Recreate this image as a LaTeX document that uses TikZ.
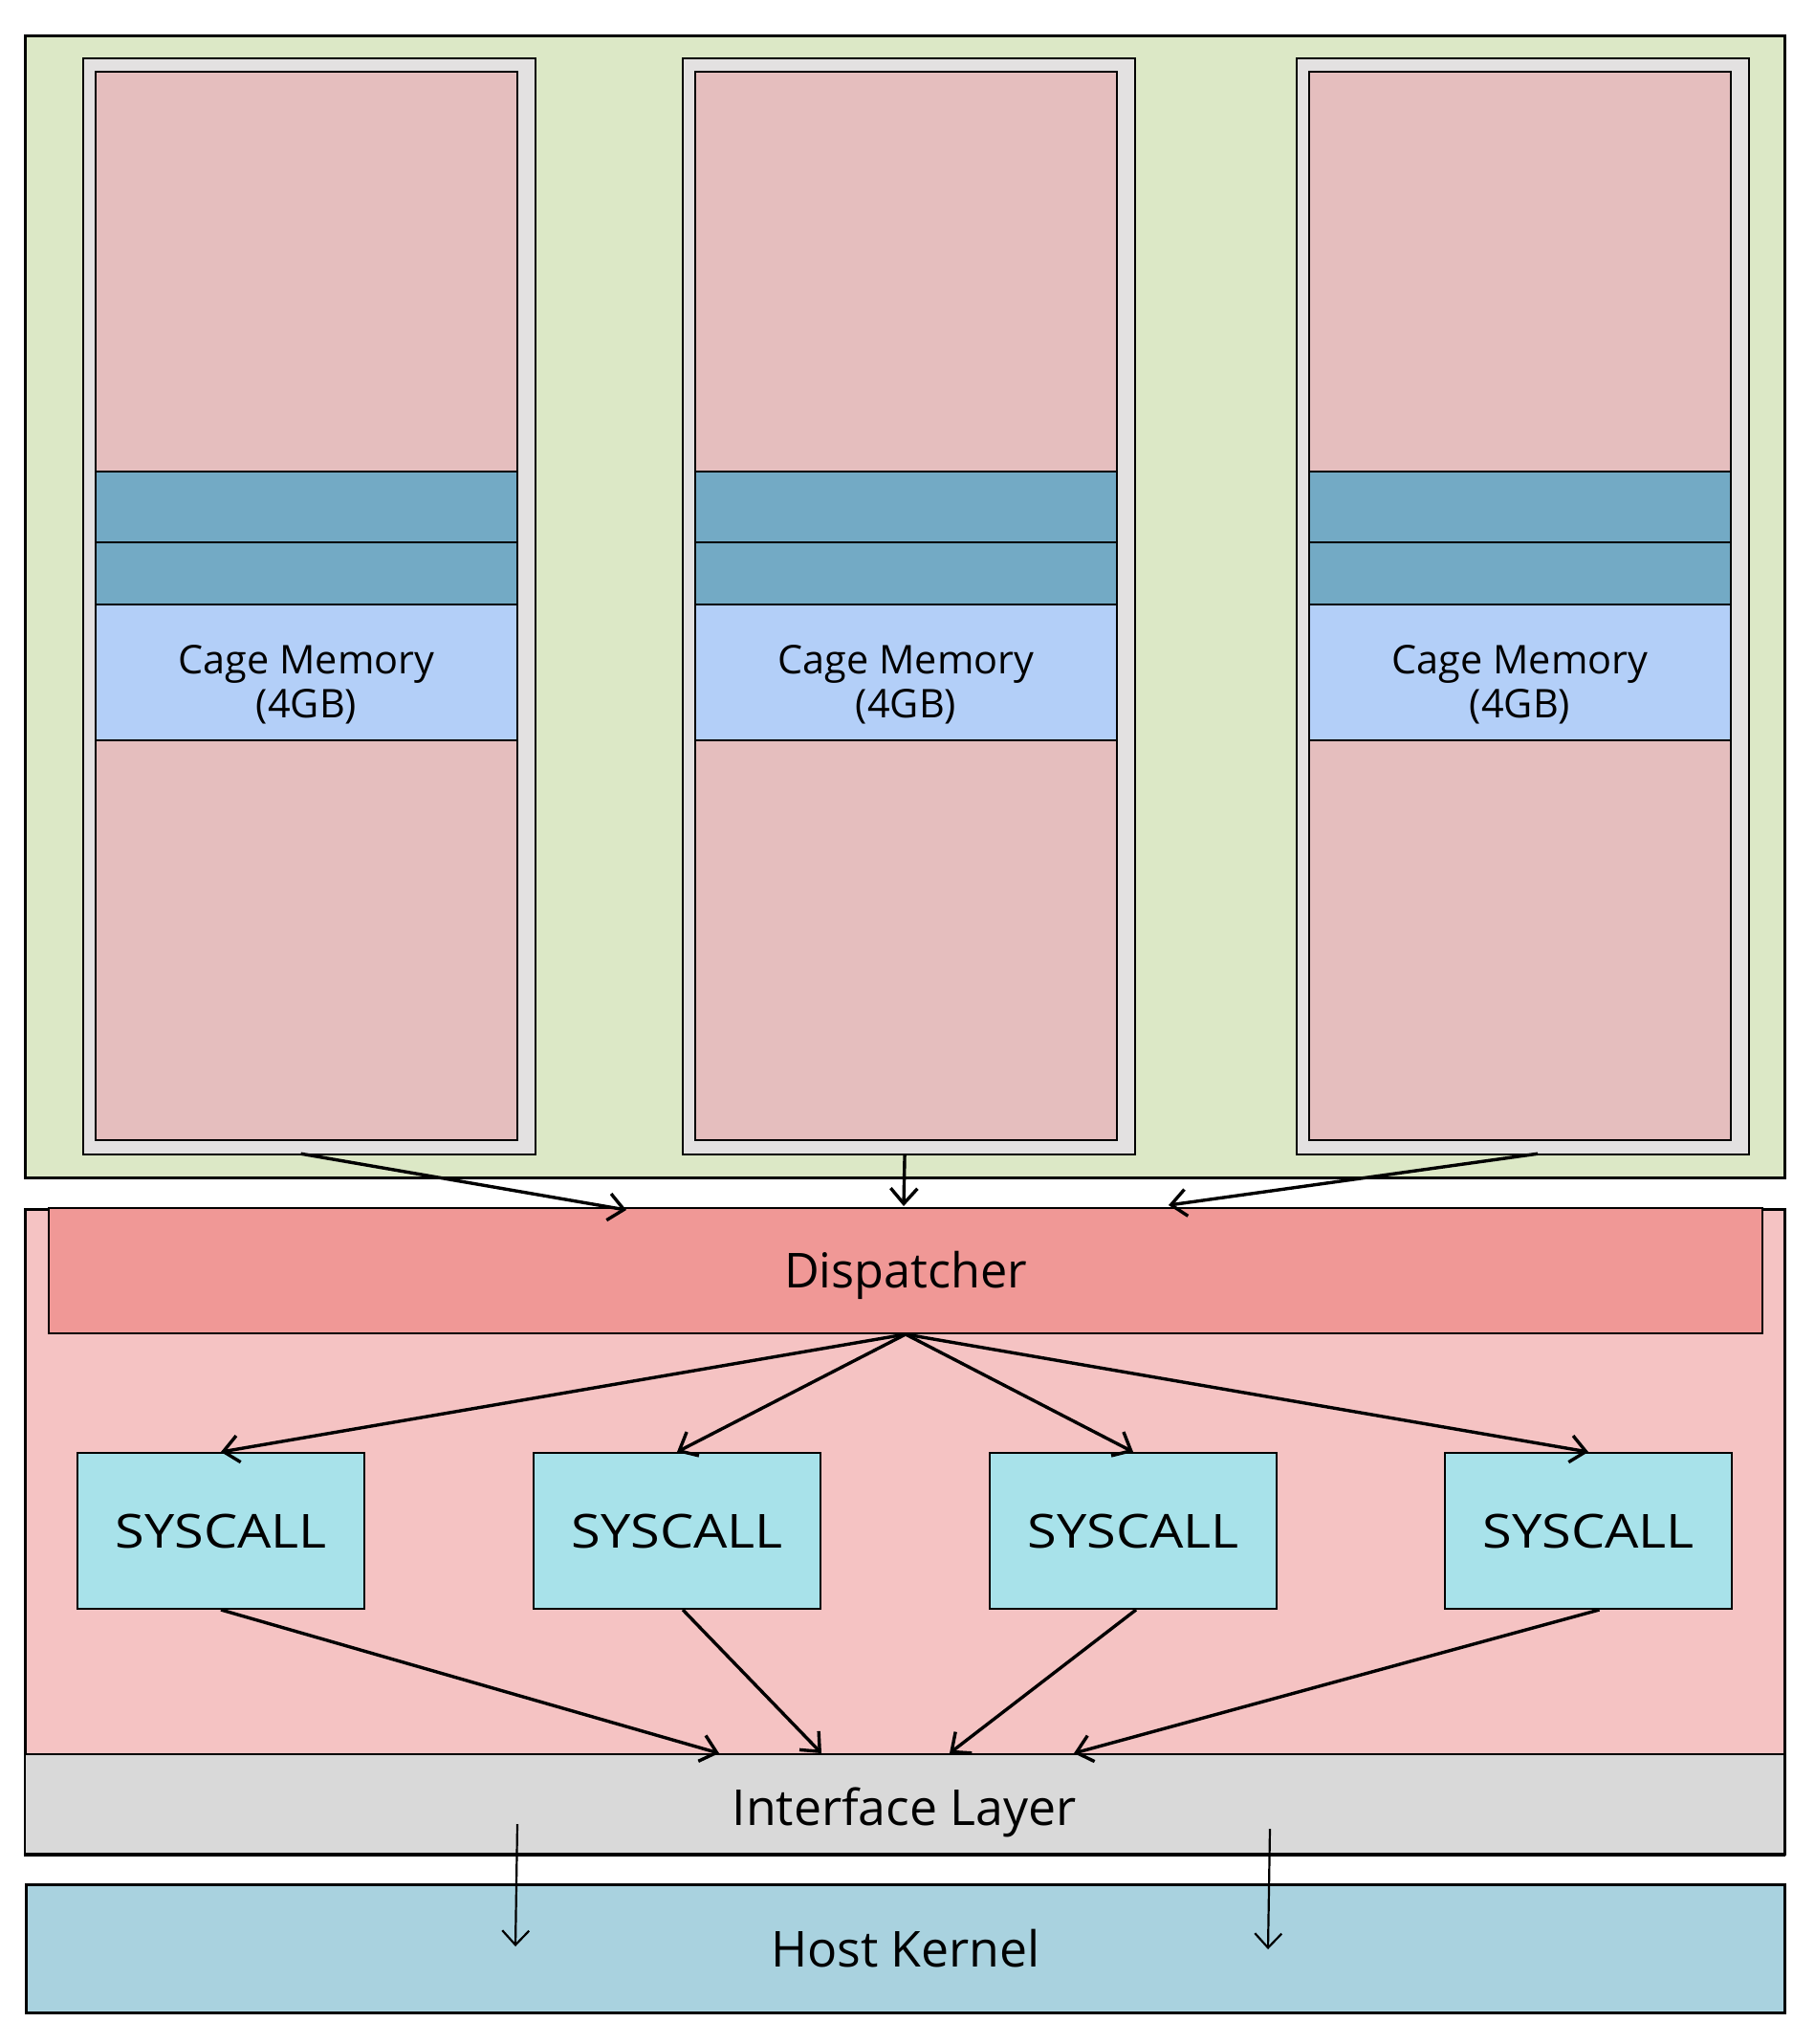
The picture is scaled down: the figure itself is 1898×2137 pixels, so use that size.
\documentclass[tikz,border=0pt]{standalone}
\usepackage{fontspec}
\usepackage{graphicx}
\setmainfont{Open Sans}
\usetikzlibrary{arrows.meta,calc}
\definecolor{guestgreen}{RGB}{220,232,198}
\definecolor{cagegray}{RGB}{227,225,225}
\definecolor{mempink}{RGB}{229,190,190}
\definecolor{bandblue}{RGB}{115,170,197}
\definecolor{cageblue}{RGB}{179,207,248}
\definecolor{rtpink}{RGB}{245,195,195}
\definecolor{disppink}{RGB}{240,152,150}
\definecolor{syscyan}{RGB}{168,226,234}
\definecolor{ifgray}{RGB}{217,217,217}
\definecolor{hostblue}{RGB}{169,210,223}
\newcommand{\syslabel}{\scalebox{1.14}[1]{SYSCALL}}
\begin{document}
\begin{tikzpicture}[x=0.5pt,y=-0.5pt,
  container/.style={draw, line width=1.5pt, inner sep=0pt, anchor=north west},
  cagebox/.style={draw, line width=1.1pt, fill=cagegray, inner sep=0pt, anchor=north west,
    minimum width=236.5pt, minimum height=573pt},
  memline/.style={draw, line width=1pt},
  memtext/.style={inner sep=0pt, anchor=north, align=center, font=\fontsize{20.7}{23}\selectfont},
  sysbox/.style={draw, line width=1pt, fill=syscyan, inner sep=0pt, anchor=north west,
    minimum width=150pt, minimum height=81.5pt,
    font=\fontsize{24.5}{28}\selectfont, text height=17.5pt, text depth=0pt},
  arr/.style={line width=1.7pt, -{Straight Barb[length=8pt,width=14pt]}},
  thinarr/.style={line width=1.1pt, -{Straight Barb[length=7.5pt,width=14pt]}}
]
\useasboundingbox (0,0) rectangle (1898,2137);

% guest area
\node[container, fill=guestgreen, minimum width=920.25pt, minimum height=597pt] (guest) at (24.5,36) {};

% cages
\foreach \cx/\nm in {86/A,713/B,1355/C}{
  \node[cagebox] (cage\nm) at (\cx,60) {};
  \draw[memline, fill=mempink]  (\cx+14,75)  rectangle (\cx+455,493);
  \draw[memline, fill=bandblue] (\cx+14,493) rectangle (\cx+455,567);
  \draw[memline, fill=bandblue] (\cx+14,567) rectangle (\cx+455,632);
  \draw[memline, fill=cageblue] (\cx+14,632) rectangle (\cx+455,774);
  \draw[memline, fill=mempink]  (\cx+14,774) rectangle (\cx+455,1192);
  \node[memtext] (mem\nm) at (\cx+234.5,674) {Cage Memory\\(4GB)};
}

% runtime area
\node[container, fill=rtpink, minimum width=920.25pt, minimum height=337pt] (runtime) at (24.5,1263) {};
\node[draw, line width=1pt, fill=disppink, inner sep=0pt, anchor=north west,
  minimum width=896pt, minimum height=65.5pt,
  font=\fontsize{25.2}{30}\selectfont, text height=18pt, text depth=0pt] (disp) at (50,1262) {Dispatcher};

\node[sysbox] (S1) at (80,1518) {\syslabel};
\node[sysbox] (S2) at (557,1518) {\syslabel};
\node[sysbox] (S3) at (1034,1518) {\syslabel};
\node[sysbox] (S4) at (1510,1518) {\syslabel};

\node[draw, line width=1pt, fill=ifgray, inner sep=0pt, anchor=north west,
  minimum width=920.25pt, minimum height=52pt,
  font=\fontsize{25.9}{30}\selectfont, text height=22pt, text depth=0pt] (iface) at (24.5,1833) {Interface Layer};
\draw[line width=1.5pt] (iface.south west) -- (iface.south east);

\node[container, fill=hostblue, minimum width=919.5pt, minimum height=67pt,
  font=\fontsize{25.9}{30}\selectfont, text height=18.5pt, text depth=0pt] (host) at (26,1969) {Host Kernel};

% coordinates for free ends
\coordinate (dA) at (655,1265);
\coordinate (dB) at (945,1261);
\coordinate (dC) at (1222,1260);
\coordinate (i1) at (752,1833);
\coordinate (i2) at (859,1833);
\coordinate (i3) at (993,1833);
\coordinate (i4) at (1123,1833);
\coordinate (kAtop) at (541,1907);
\coordinate (kAend) at (539,2035);
\coordinate (kBtop) at (1328,1912);
\coordinate (kBend) at (1326,2038);

% cage arrows
\draw[arr] ($(cageA.south)+(-9,-2)$) -- (dA);
\draw[arr] ($(cageB.south)+(-4.5,-2)$) -- (dB);
\draw[arr] ($(cageC.south)+(15.5,-2)$) -- (dC);

% dispatcher fan
\foreach \s in {S1,S2,S3,S4}{
  \draw[arr] (disp.south) -- (\s.north);
}

% syscalls to interface
\draw[arr] (S1.south) -- (i1);
\draw[arr] ($(S2.south)+(6,0)$) -- (i2);
\draw[arr] ($(S3.south)+(3,0)$) -- (i3);
\draw[arr] ($(S4.south)+(11.5,0)$) -- (i4);

% interface to host
\draw[thinarr] (kAtop) -- (kAend);
\draw[thinarr] (kBtop) -- (kBend);
\end{tikzpicture}
\end{document}
